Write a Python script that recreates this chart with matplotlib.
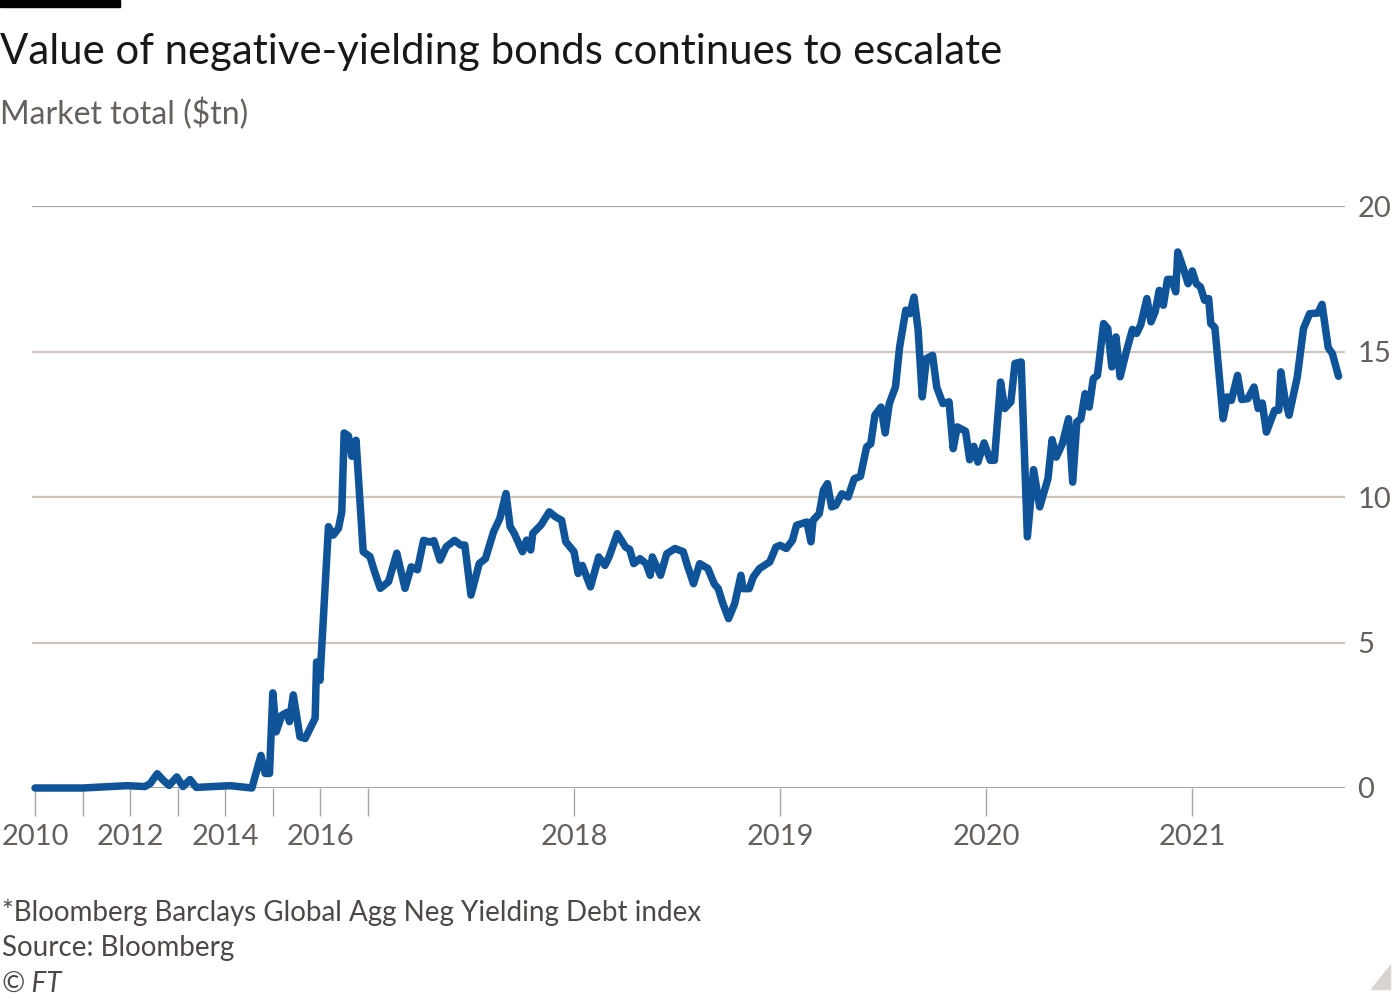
import numpy as np
import matplotlib
matplotlib.use('Agg')
import matplotlib.pyplot as plt
from matplotlib.patches import Rectangle, Polygon

# data: Bloomberg Barclays Global Agg Neg Yielding Debt index, market value ($tn)
# monthly points until end of 2016, weekly after that
years = [
    2010.00, 2011.00, 2011.93, 2012.31, 2012.42, 2012.57, 2012.70, 2012.82, 2012.98, 2013.11,
    2013.26, 2013.39, 2014.10, 2014.56, 2014.75, 2014.84, 2014.93, 2015.00, 2015.07, 2015.19,
    2015.30, 2015.35, 2015.43, 2015.57, 2015.68, 2015.89, 2015.92, 2015.99, 2016.17, 2016.27,
    2016.38, 2016.45, 2016.50, 2016.59, 2016.66, 2016.75, 2016.90,
    2017.01, 2017.03, 2017.06, 2017.10, 2017.14, 2017.18, 2017.21, 2017.24, 2017.27, 2017.30,
    2017.32, 2017.35, 2017.38, 2017.42, 2017.45, 2017.47, 2017.50, 2017.54, 2017.57, 2017.61,
    2017.64, 2017.67, 2017.69, 2017.71, 2017.75, 2017.77, 2017.79, 2017.80, 2017.84, 2017.88,
    2017.91, 2017.94, 2017.96,
    2018.00, 2018.02, 2018.04, 2018.08, 2018.12, 2018.15, 2018.17, 2018.21, 2018.25, 2018.27,
    2018.29, 2018.32, 2018.35, 2018.37, 2018.38, 2018.42, 2018.45, 2018.49, 2018.53, 2018.55,
    2018.58, 2018.61, 2018.65, 2018.68, 2018.70, 2018.72, 2018.75, 2018.78, 2018.81, 2018.82,
    2018.85, 2018.87, 2018.90, 2018.95, 2018.98,
    2019.00, 2019.03, 2019.06, 2019.08, 2019.13, 2019.15, 2019.16, 2019.19, 2019.21, 2019.23,
    2019.25, 2019.27, 2019.30, 2019.33, 2019.36, 2019.39, 2019.42, 2019.44, 2019.46, 2019.49,
    2019.51, 2019.53, 2019.56, 2019.58, 2019.61, 2019.63, 2019.65, 2019.67, 2019.69, 2019.71,
    2019.74, 2019.76, 2019.79, 2019.82, 2019.84, 2019.86, 2019.90, 2019.92, 2019.94, 2019.96,
    2019.99,
    2020.02, 2020.04, 2020.07, 2020.09, 2020.12, 2020.14, 2020.17, 2020.20, 2020.23, 2020.26,
    2020.30, 2020.32, 2020.34, 2020.37, 2020.40, 2020.42, 2020.44, 2020.46, 2020.48, 2020.50,
    2020.52, 2020.54, 2020.55, 2020.57, 2020.59, 2020.61, 2020.63, 2020.65, 2020.68, 2020.71,
    2020.73, 2020.75, 2020.78, 2020.80, 2020.82, 2020.84, 2020.86, 2020.88, 2020.90, 2020.92,
    2020.93, 2020.96, 2020.98,
    2021.00, 2021.02, 2021.04, 2021.06, 2021.08, 2021.09, 2021.11, 2021.15, 2021.17, 2021.19,
    2021.22, 2021.24, 2021.27, 2021.30, 2021.32, 2021.34, 2021.36, 2021.40, 2021.42, 2021.43,
    2021.45, 2021.47, 2021.51, 2021.54, 2021.57, 2021.61, 2021.63, 2021.66, 2021.68, 2021.71,
]
values = [
    0.0, 0.0, 0.08, 0.05, 0.15, 0.49, 0.26, 0.09, 0.38, 0.05,
    0.29, 0.02, 0.08, 0.0, 1.12, 0.5, 0.5, 3.27, 1.93, 2.5,
    2.6, 2.28, 3.2, 1.76, 1.7, 2.4, 4.33, 3.7, 8.98, 8.69,
    8.92, 9.49, 12.2, 12.1, 11.4, 11.95, 8.12,
    7.95, 7.48, 6.86, 7.09, 8.07, 6.86, 7.6, 7.5, 8.51, 8.45,
    8.5, 7.83, 8.29, 8.51, 8.35, 8.35, 6.63, 7.71, 7.88, 8.81,
    9.26, 10.12, 8.98, 8.75, 8.12, 8.52, 8.18, 8.75, 9.04, 9.49,
    9.32, 9.2, 8.46,
    8.12, 7.37, 7.65, 6.91, 7.94, 7.65, 7.94, 8.74, 8.28, 8.2,
    7.71, 7.88, 7.71, 7.31, 7.94, 7.31, 8.05, 8.23, 8.12, 7.65,
    7.02, 7.71, 7.54, 7.02, 6.85, 6.39, 5.82, 6.34, 7.31, 6.85,
    6.85, 7.25, 7.54, 7.77, 8.28,
    8.34, 8.23, 8.51, 9.03, 9.14, 8.46, 9.2, 9.43, 10.23, 10.46,
    9.66, 9.71, 10.11, 10.0, 10.63, 10.71, 11.72, 11.83, 12.81, 13.09,
    12.2, 13.21, 13.78, 15.15, 16.42, 16.3, 16.87, 15.73, 13.44, 14.76,
    14.87, 13.78, 13.21, 13.27, 11.66, 12.41, 12.26, 11.28, 11.74, 11.2,
    11.86,
    11.26, 11.26, 13.95, 13.04, 13.27, 14.59, 14.64, 8.63, 10.94, 9.66,
    10.63, 11.97, 11.37, 11.83, 12.69, 10.51, 12.58, 12.69, 13.55, 13.09,
    14.07, 14.18, 14.76, 15.96, 15.79, 14.47, 15.5, 14.13, 14.99, 15.76,
    15.62, 15.91, 16.82, 16.02, 16.36, 17.1, 16.59, 17.48, 17.48, 17.05,
    18.42, 17.79, 17.33,
    17.77, 17.33, 17.22, 16.76, 16.82, 15.96, 15.82, 12.69, 13.44, 13.32,
    14.18, 13.35, 13.38, 13.78, 13.04, 13.23, 12.23, 12.98, 12.98, 14.3,
    13.38, 12.81, 14.13, 15.79, 16.3, 16.32, 16.62, 15.13, 14.93, 14.15,
]

tick_years = list(range(2010, 2022))
tick_labels = ['2010', '', '2012', '', '2014', '', '2016', '', '2018', '2019', '2020', '2021']
y_ticks = [0, 5, 10, 15, 20]

title = 'Value of negative-yielding bonds continues to escalate'
subtitle = 'Market total ($tn)'
notes = ['*Bloomberg Barclays Global Agg Neg Yielding Debt index', 'Source: Bloomberg']

# colours
blue = '#0f5499'
grey_text = '#66605c'
grid_col = '#cec6bd'

plt.rcParams['font.family'] = ['Lato', 'DejaVu Sans']


# the FT axis plots one point per period: months before 2017, weeks after
def to_period(x):
    x = np.asarray(x, dtype=float)
    return np.where(x < 2017, (x - 2010) * 12, 84 + (x - 2017) * 52)


def from_period(p):
    p = np.asarray(p, dtype=float)
    return np.where(p < 84, 2010 + p / 12, 2017 + (p - 84) / 52)


fig = plt.figure(figsize=(14, 10), dpi=100)
ax = fig.add_axes([0.0229, 0.212, 0.9379, 0.582])
ax.set_xscale('function', functions=(to_period, from_period))

for v in y_ticks[1:]:
    ax.axhline(v, color='#a6a6a6' if v == 20 else grid_col, lw=1.6, zorder=1)
ax.axhline(0, color='#8c8782', lw=1.8, zorder=1)

ax.plot(years, values, color=blue, lw=5.4, solid_capstyle='round',
        solid_joinstyle='round', zorder=3, clip_on=False)

ax.set_xlim(2009.937, 2021.742)
ax.set_ylim(0, 20)

ax.set_xticks(tick_years)
ax.set_xticklabels(tick_labels)
ax.xaxis.set_minor_locator(matplotlib.ticker.NullLocator())
ax.tick_params(axis='x', direction='out', length=20, width=1, color='#a8a8a8',
               pad=6, labelsize=21, labelcolor=grey_text)

ax.yaxis.tick_right()
ax.set_yticks(y_ticks)
ax.tick_params(axis='y', length=0, pad=9, labelsize=21, labelcolor=grey_text)

for s in ax.spines.values():
    s.set_visible(False)

# header / footer
fig.patches.append(Rectangle((0, 0.993), 120 / 1400, 0.007, transform=fig.transFigure,
                             color='black', zorder=5))
fig.text(0.0, 0.936, title, fontsize=30.2, color='#1a1817', va='baseline', ha='left')
fig.text(0.0, 0.876, subtitle, fontsize=23, color=grey_text, va='baseline', ha='left')
fig.text(0.0015, 0.079, notes[0], fontsize=20, color='#4d4845', va='baseline', ha='left')
fig.text(0.0015, 0.044, notes[1], fontsize=20, color='#4d4845', va='baseline', ha='left')
fig.text(0.0015, 0.008, '\u00a9 FT', fontsize=20, color='#4d4845', va='baseline', ha='left',
         style='italic')
fig.patches.append(Polygon([(0.9793, 0.011), (0.9929, 0.011), (0.9929, 0.035)],
                           closed=True, transform=fig.transFigure, color='#d9d4cf'))

fig.savefig('out.png', dpi=100)
